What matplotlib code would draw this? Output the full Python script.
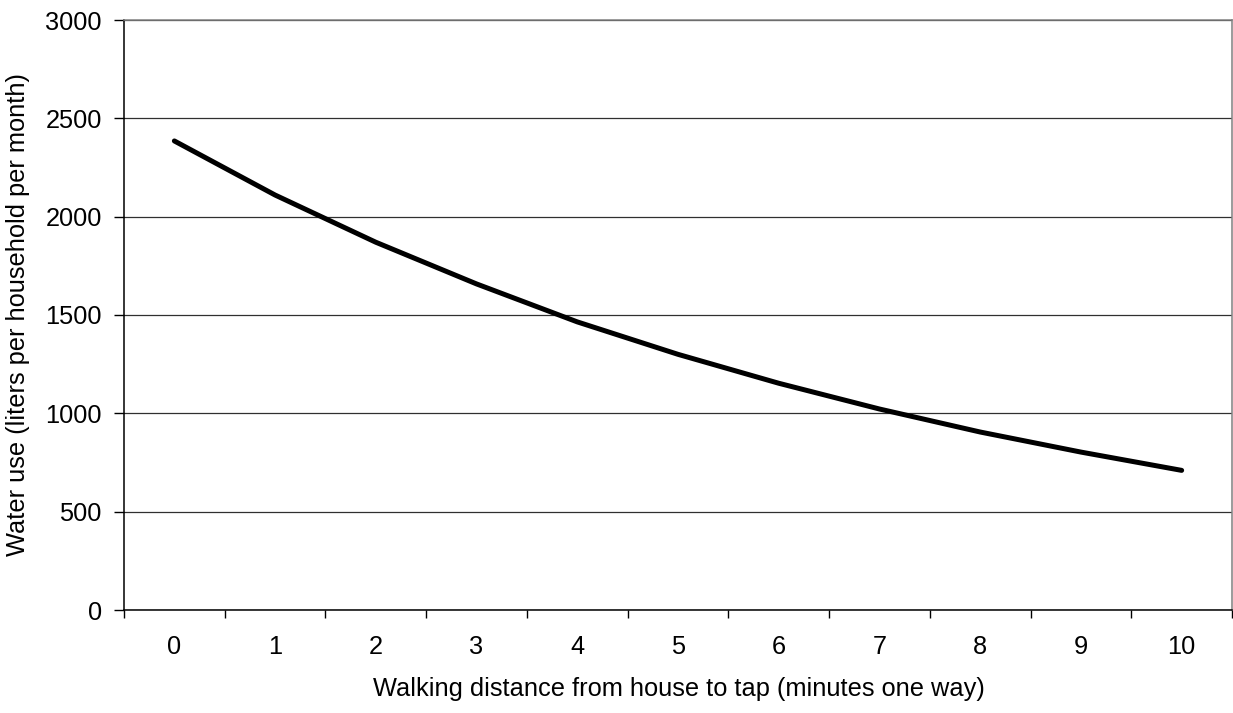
import matplotlib
matplotlib.use("Agg")
import matplotlib.pyplot as plt
from matplotlib.ticker import FixedLocator

minutes = [0, 1, 2, 3, 4, 5, 6, 7, 8, 9, 10]
water_use = [2385, 2110, 1870, 1658, 1465, 1300, 1153, 1022, 905, 803, 710]
y_ticks = [0, 500, 1000, 1500, 2000, 2500, 3000]

plt.rcParams['font.family'] = ['Liberation Sans', 'DejaVu Sans']
FS = 18.3

W, H = 1233, 713
fig = plt.figure(figsize=(W / 100, H / 100), dpi=100)
ax = fig.add_axes([124 / W, (H - 610) / H, (1232 - 124) / W, (610 - 20) / H])

ax.plot(minutes, water_use, color='black', lw=3.6, solid_capstyle='round', zorder=3)

ax.set_xlim(-0.5, 10.5)
ax.set_ylim(0, 3000)
ax.set_yticks(y_ticks)
ax.set_xticks(minutes)
ax.xaxis.set_minor_locator(FixedLocator([m - 0.5 for m in minutes] + [10.5]))
ax.tick_params(axis='x', which='major', length=0, pad=18, labelsize=FS)
ax.tick_params(axis='x', which='minor', length=6, width=1, direction='out', color='black')
ax.tick_params(axis='y', which='major', length=7, width=1, direction='out', labelsize=FS, pad=9)

ax.yaxis.grid(True, color='#303030', lw=0.9, zorder=1)
ax.set_axisbelow(True)

for side in ['left', 'bottom']:
    ax.spines[side].set_color('black')
    ax.spines[side].set_linewidth(1.1)
for side in ['top', 'right']:
    ax.spines[side].set_color('#808080')
    ax.spines[side].set_linewidth(1.1)

fig.text(679 / W, 1 - 689 / H, 'Walking distance from house to tap (minutes one way)',
         fontsize=FS, ha='center', va='center')
fig.text(18 / W, 1 - 314 / H, 'Water use (liters per household per month)',
         fontsize=FS, ha='center', va='center', rotation=90)

fig.savefig('out.png', dpi=100)
